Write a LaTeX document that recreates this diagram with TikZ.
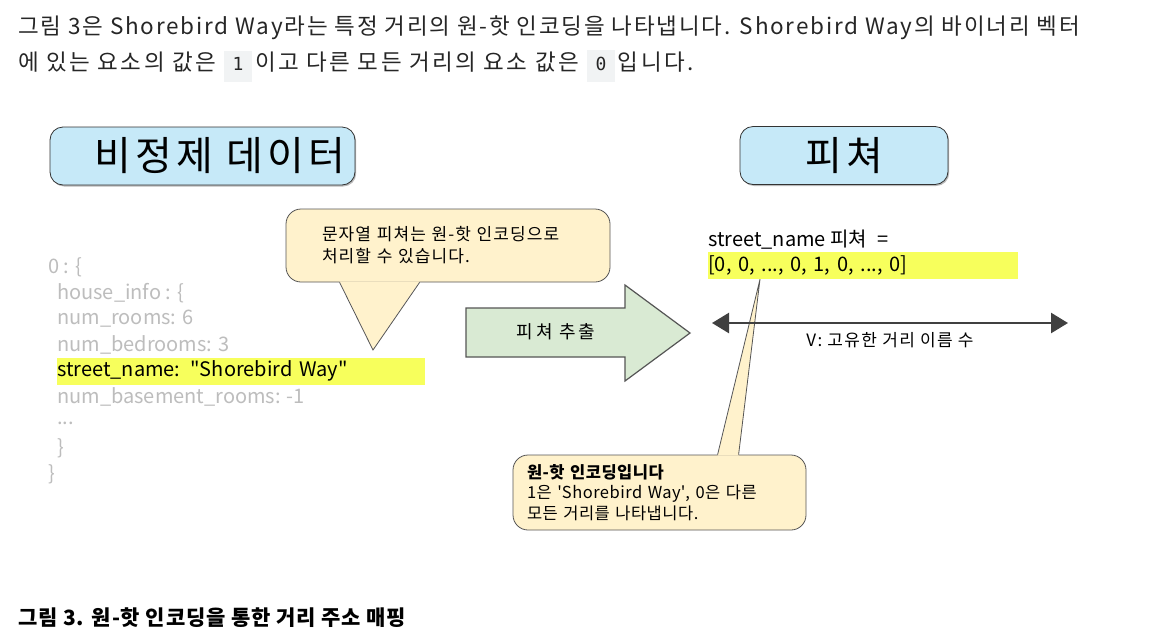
\documentclass[tikz,border=0pt]{standalone}
\usepackage{fontspec}
\setmainfont{Noto Sans CJK KR}
\setmonofont{DejaVu Sans Mono}
\usepackage{xcolor}
\usetikzlibrary{positioning,arrows.meta,shadows}

\definecolor{titleblue}{HTML}{C6E9F8}
\definecolor{notefill}{HTML}{FFF2CC}
\definecolor{arrowgreen}{HTML}{D9EAD3}
\definecolor{marker}{HTML}{F7FF5C}
\definecolor{jsongray}{HTML}{BDBDBD}
\definecolor{codegray}{HTML}{F1F3F4}
\definecolor{edgegray}{HTML}{555555}

\newcommand\codebit[1]{\hspace{8pt}{\setlength{\fboxsep}{7pt}\colorbox{codegray}{\hspace{1.5pt}\fontsize{18}{20}\ttfamily\vphantom{Ag}#1\hspace{1.5pt}}}\hspace{3pt}}
\newcommand\track[1]{\addfontfeature{LetterSpace=#1}}

\begin{document}
\begin{tikzpicture}[x=1pt, y=-1pt,
  para/.style={anchor=west, inner sep=0pt, font=\fontsize{22.5}{26}\selectfont\track{8}, text=black!85},
  title/.style={draw=black!80, fill=titleblue, rounded corners=13pt, line width=0.8pt,
                minimum height=58pt, font=\fontsize{40}{44}\selectfont\track{10},
                drop shadow={shadow xshift=1.2pt, shadow yshift=-1.5pt, fill=black!45, opacity=0.6}},
  note/.style={draw=edgegray, fill=notefill, rounded corners=15pt, line width=0.8pt,
               align=left, font=\fontsize{17}{21}\selectfont},
  noteline/.style={draw=edgegray, line width=0.8pt, line join=miter},
  json/.style={anchor=west, inner sep=0pt, text=jsongray, font=\fontsize{20}{22}\selectfont},
  hilite/.style={anchor=west, fill=marker, inner xsep=0pt, inner ysep=0pt, align=left,
               minimum height=27pt, font=\fontsize{20}{22}\selectfont},
  >={Triangle[length=17pt, width=20pt]}]

\fill[white] (0,0) rectangle (1164,638);
\useasboundingbox (0,0) rectangle (1164,638);

% paragraph above the figure
\node[para] (line1) at (18,28) {그림 3은 Shorebird Way라는 특정 거리의 원-핫 인코딩을 나타냅니다. Shorebird Way의 바이너리 벡터};
\node[para, font=\fontsize{22.5}{26}\selectfont\track{11}] (line2) at (18,66) {에 있는 요소의 값은\codebit{1}이고 다른 모든 거리의 요소 값은\codebit{0}입니다.};

% column titles
\node[title, minimum width=305pt, text width=285pt, inner xsep=10pt, align=right] (raw) at (202.5,156) {비정제 데이터};
\node[title, minimum width=208pt] (feat) at (844,155.5) {피쳐};

% raw record
\node[json] (j0) at (48,267) {0 : \{};
\node[json] (j1) at (57,293) {house\_info : \{};
\node[json] (j2) at (57,319) {num\_rooms: 6};
\node[json] (j3) at (57,345) {num\_bedrooms: 3};
\node[hilite, text width=368pt] (street) at (57,371) {street\_name: \textquotedbl Shorebird Way\textquotedbl};
\node[json] (j5) at (57,397) {num\_basement\_rooms: -1};
\node[json] (j6) at (57,423) {...};
\node[json] (j7) at (57,448) {\}};
\node[json] (j8) at (48,474) {\}};

% callout on the string feature
\node[note, minimum width=324pt, minimum height=73pt, text width=252pt, inner xsep=36pt,
      font=\fontsize{17}{22}\selectfont\track{6.5}] (note1) at (448,245.5)
  {문자열 피쳐는 원-핫 인코딩으로\\처리할 수 있습니다.};
\coordinate (tip1) at (373,350);
\fill[notefill] ([xshift=54pt, yshift=1pt]note1.south west) -- (tip1) -- ([xshift=134pt, yshift=1pt]note1.south west) -- cycle;
\draw[noteline] ([xshift=54pt]note1.south west) -- (tip1) -- ([xshift=134pt]note1.south west);

% block arrow
\draw[edgegray, fill=arrowgreen, line width=1.2pt, line join=miter]
  (466,308) -- (625,308) -- (625,285) -- (690,333) -- (625,381) -- (625,357) -- (466,357) -- cycle;
\node[font=\fontsize{18}{20}\selectfont\track{15}] (extract) at (556,332) {피쳐 추출};

% feature vector
\node[anchor=west, inner sep=0pt, font=\fontsize{20}{22}\selectfont] (fname) at (708,240) {street\_name 피쳐\hspace{6pt} =};
\node[hilite, text width=310pt] (vec) at (708,265.5) {[0, 0, ..., 0, 1, 0, ..., 0]};

% callout on the vector
\node[note, minimum width=293pt, minimum height=75pt, text width=265pt, inner xsep=14pt,
      font=\fontsize{16.5}{20.5}\selectfont\track{3}] (note2) at (659.5,492.5)
  {\textbf{원-핫 인코딩입니다}\\1은 \textquotesingle Shorebird Way\textquotesingle, 0은 다른\\모든 거리를 나타냅니다.};
\coordinate (tip2) at ([xshift=52pt]vec.south west);
\fill[notefill] ([xshift=205pt, yshift=-1pt]note2.north west) -- (tip2) -- ([xshift=226pt, yshift=-1pt]note2.north west) -- cycle;
\draw[noteline] ([xshift=205pt]note2.north west) -- (tip2) -- ([xshift=226pt]note2.north west);

% vector length
\coordinate (vl) at (712,323);
\coordinate (vr) at (1068,323);
\draw[<->, draw=black!75, fill=black!75, line width=2.5pt] (vl) -- (vr)
  node[midway, below=5pt, fill=none, font=\fontsize{17}{20}\selectfont\track{8}] (vlen) {V: 고유한 거리 이름 수};

% caption
\node[anchor=west, inner sep=0pt, font=\fontsize{21}{24}\bfseries\track{4}] (caption) at (18,618) {그림 3. 원-핫 인코딩을 통한 거리 주소 매핑};
\end{tikzpicture}
\end{document}
